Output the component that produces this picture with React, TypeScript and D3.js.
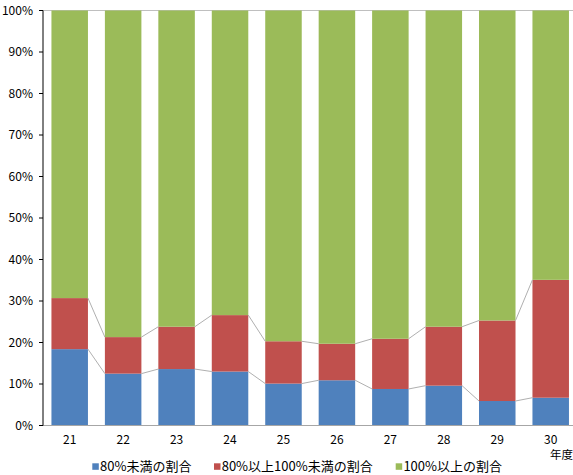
import React from "react";
import * as d3 from "d3";

const categories = ["21", "22", "23", "24", "25", "26", "27", "28", "29", "30"];
const under80 = [18.4, 12.5, 13.6, 13.0, 10.1, 10.9, 8.8, 9.6, 5.9, 6.7];
const from80to100 = [12.3, 8.8, 10.2, 13.6, 10.2, 8.8, 12.1, 14.2, 19.4, 28.4];
const seriesNames = ["80%未満の割合", "80%以上100%未満の割合", "100%以上の割合"];
const yTicks = [0, 10, 20, 30, 40, 50, 60, 70, 80, 90, 100];
const colors = ["#4F81BD", "#C0504D", "#9BBB59"];

export default function App() {
  const W = 573, H = 475;
  const x0 = 43, x1 = 577.4, yTop = 10.5, yBot = 425.5;
  const x = d3.scaleBand<string>().domain(categories).range([x0, x1]).paddingInner(0.317).paddingOuter(0.158);
  const y = d3.scaleLinear().domain([0, 100]).range([yBot, yTop]);
  const rows = categories.map((c, i) => ({
    c,
    a: under80[i],
    b: from80to100[i],
    g: 100 - under80[i] - from80to100[i],
  }));
  const stack = d3.stack<any>().keys(["a", "b", "g"])(rows);
  const font = "'Noto Sans CJK JP', 'Noto Sans', sans-serif";
  const bw = x.bandwidth();

  const connectors: JSX.Element[] = [];
  [0, 1].forEach((si) => {
    for (let i = 0; i < categories.length - 1; i++) {
      const v1 = stack[si][i][1];
      const v2 = stack[si][i + 1][1];
      connectors.push(
        <line key={`c${si}-${i}`} x1={x(categories[i])! + bw} y1={y(v1)} x2={x(categories[i + 1])!} y2={y(v2)}
          stroke="#A6A6A6" strokeWidth={0.9} />
      );
    }
  });

  const legendItems = [
    { x: 92.3, label: seriesNames[0], color: colors[0] },
    { x: 214, label: seriesNames[1], color: colors[1] },
    { x: 395.7, label: seriesNames[2], color: colors[2] },
  ];

  return (
    <svg width={W} height={H} style={{ position: "absolute", left: 0, top: 0, background: "#fff" }}>
      <line x1={x0} x2={W} y1={yTop} y2={yTop} stroke="#BFBFBF" strokeWidth={1} />
      {stack.map((s, si) =>
        s.map((d, i) => (
          <rect key={`${si}-${i}`} x={x(categories[i])} y={y(d[1])} width={bw} height={y(d[0]) - y(d[1])}
            fill={colors[si]} />
        ))
      )}
      {connectors}
      <line x1={x0} x2={W} y1={yBot} y2={yBot} stroke="#A6A6A6" strokeWidth={1} />
      <line x1={x0} x2={x0} y1={yTop} y2={yBot} stroke="#000" strokeWidth={1} />
      {yTicks.map((t) => (
        <g key={t}>
          <line x1={x0 - 4} x2={x0} y1={y(t)} y2={y(t)} stroke="#000" strokeWidth={1} />
          <text x={33} y={y(t)} dy="0.35em" textAnchor="end" fontSize={12} fontFamily={font} fill="#000">{t}%</text>
        </g>
      ))}
      {categories.map((c) => (
        <text key={c} x={x(c)! + bw / 2} y={439.5} dy="0.35em" textAnchor="middle" fontSize={12} fontFamily={font} fill="#000">{c}</text>
      ))}
      <text x={561.5} y={455} dy="0.35em" textAnchor="middle" fontSize={11.5} fontFamily={font} fill="#000">年度</text>
      {legendItems.map((l) => (
        <g key={l.label}>
          <rect x={l.x} y={463.3} width={6.5} height={6.5} fill={l.color} />
          <text x={l.x + 7.7} y={466.5} dy="0.35em" fontSize={13} fontFamily={font} fill="#000">{l.label}</text>
        </g>
      ))}
    </svg>
  );
}
